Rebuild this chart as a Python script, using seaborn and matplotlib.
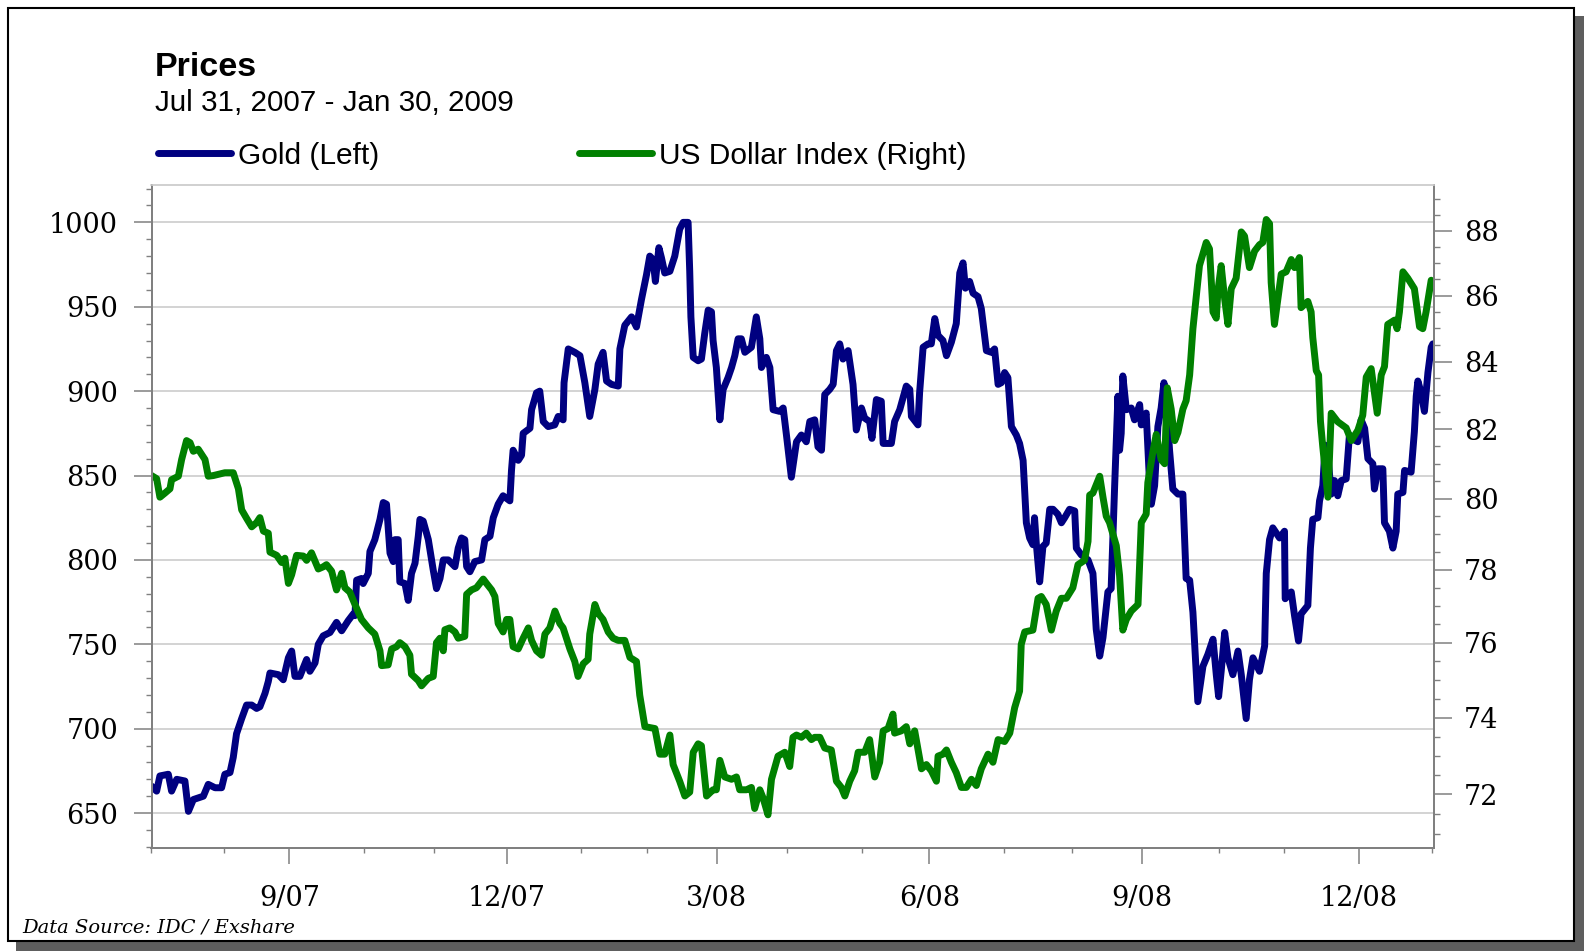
import numpy as np
import pandas as pd
import matplotlib.pyplot as plt
import seaborn as sns
from matplotlib.patches import Rectangle
from matplotlib.ticker import FixedLocator, MultipleLocator, NullFormatter, FixedFormatter

# days after Jul 31, 2007 and the values
gold_day = [
    0, 2.2, 3.6, 7.2, 8.6, 10.8, 14.3, 15.8, 17.9, 22.2, 24.3, 27.2, 30.0, 31.4, 33.6, 35.0, 36.4, 38.6, 40.7, 42.9,
    45.0, 46.4, 48.6, 50.0, 50.7, 54.3, 56.4, 58.6, 60.0, 61.4, 63.5, 66.4, 67.8, 70.0, 71.4, 73.5, 76.4, 79.2, 81.4, 84.2, 86.4,
    87.1, 87.8, 89.9, 90.6, 92.8, 93.5, 95.6, 97.8, 99.2, 100.6, 102.1, 103.5, 104.2, 105.6, 106.3, 108.5, 109.9, 111.3, 112.8, 114.2,
    114.9, 116.3, 118.5, 120.6, 122.0, 123.5, 124.9, 127.0, 129.9, 131.3, 132.7, 134.1, 134.9, 136.3, 138.4, 141.3, 142.7, 144.9, 146.3, 148.4,
    150.5, 153.4, 154.1, 154.8, 157.0, 158.4, 159.1, 162.0, 162.7, 164.8, 166.2, 167.7, 169.8, 172.6, 174.1, 176.2, 176.6,
    178.4, 181.2, 183.4, 185.5, 187.6, 189.8, 191.2, 193.3, 194.8, 196.9, 199.8, 200.5, 202.6, 205.5, 207.6, 209.7, 211.9, 213.3, 214.7, 215.7,
    217.2, 218.3, 219.7, 221.9, 224.0, 226.1, 227.6, 229.7, 230.4, 230.9, 231.9, 234.0, 235.4, 236.8, 238.3, 239.7, 240.4, 241.8, 243.3, 244.7,
    246.8, 248.3, 249.7, 251.1, 252.5, 254.0, 256.8, 258.9, 260.4, 261.1, 263.2, 264.7, 266.1, 268.9, 270.4,
    271.8, 273.9, 276.1, 278.2, 280.3, 281.8, 283.9, 285.3, 286.8, 288.2, 290.3, 291.8, 293.2, 294.6, 296.0, 298.2, 300.3, 301.7, 303.9, 305.3,
    307.4, 308.4, 310.3, 312.4, 313.2, 315.3, 316.7, 318.1, 320.3, 323.1, 324.6, 325.3, 328.1, 328.8, 330.3, 332.4, 333.8, 335.3, 336.7, 338.8,
    340.3, 342.4, 344.5, 346.0, 347.4, 348.4, 350.2, 351.7, 353.8, 355.2,
    357.4, 359.5, 360.9, 362.4, 363.8, 365.2, 366.6, 368.1, 370.2, 371.6, 373.1, 373.8, 374.5, 375.9, 377.3, 378.0, 378.8, 380.2, 381.6, 383.0,
    384.5, 385.9, 388.0, 389.5, 390.9, 393.0, 395.2, 395.9, 398.0, 400.9, 403.0, 404.4, 405.9, 407.3, 409.4, 410.8, 412.3, 413.0, 413.7, 414.4,
    415.1, 415.8, 417.3, 419.4, 420.8, 423.0, 423.7, 425.8, 427.3, 428.0, 429.4, 430.8, 432.2, 433.4, 434.4, 435.8, 437.2, 439.4, 441.5, 442.9,
    444.4, 445.8,
    447.9, 450.1, 452.2, 454.4, 455.8, 456.8, 457.9, 459.4, 460.8, 462.9, 465.1, 466.5, 468.6, 470.0, 471.5, 474.3, 476.5, 477.2, 478.6, 480.0,
    482.9, 485.0, 485.3, 487.9, 489.3, 491.0, 492.1, 495.0, 496.1, 497.1, 499.3, 500.0, 501.4, 502.4, 503.6, 505.0, 506.4, 507.8, 509.3, 511.4,
    512.8, 515.0, 516.4, 517.8, 519.3, 520.7, 522.8, 523.5, 525.0, 527.1, 527.8, 529.9, 531.4, 532.8, 533.5, 535.7, 536.4, 539.2, 540.6, 541.4,
    542.1, 543.5, 544.9, 546.4, 547.8, 548.5,
]
gold_price = [
    666, 663, 672, 673, 663, 670, 669, 651, 658, 660, 667, 665, 665, 673, 674, 683, 697, 706, 714, 714,
    712, 713, 721, 728, 733, 732, 729, 742, 746, 731, 731, 741, 734, 739, 750, 755, 757, 763, 758, 764, 768,
    767, 788, 789, 786, 792, 805, 812, 824, 834, 833, 804, 799, 812, 812, 787, 786, 776, 792, 798, 814,
    824, 823, 812, 794, 783, 789, 800, 800, 796, 807, 813, 812, 796, 793, 799, 800, 812, 814, 825, 833,
    838, 835, 853, 865, 859, 862, 875, 878, 889, 899, 900, 882, 879, 880, 885, 883, 905,
    925, 923, 921, 905, 885, 901, 916, 923, 906, 904, 903, 925, 939, 944, 938, 954, 969, 980, 978, 965,
    985, 979, 970, 971, 980, 996, 1000, 1000, 971, 944, 920, 918, 919, 934, 948, 947, 930, 914, 883, 901,
    908, 914, 921, 931, 931, 923, 926, 944, 931, 914, 920, 914, 889, 888, 890,
    874, 849, 870, 874, 870, 882, 883, 867, 865, 898, 901, 904, 924, 928, 919, 924, 904, 877, 890, 884,
    882, 872, 895, 894, 869, 869, 869, 882, 889, 903, 901, 885, 880, 899, 926, 928, 928, 943, 933, 930,
    921, 929, 940, 970, 976, 961, 965, 958, 956, 949,
    924, 923, 925, 904, 905, 911, 908, 879, 874, 869, 859, 840, 822, 813, 809, 825, 809, 787, 808, 810,
    830, 830, 827, 822, 825, 830, 829, 807, 803, 800, 792, 759, 743, 754, 781, 783, 844, 870, 897, 865,
    875, 909, 889, 890, 883, 892, 880, 887, 844, 833, 844, 879, 890, 905, 894, 865, 842, 839, 839, 789,
    788, 769,
    716, 737, 744, 753, 732, 719, 734, 757, 742, 732, 746, 732, 706, 729, 742, 734, 749, 792, 812, 819,
    813, 817, 777, 781, 767, 752, 768, 773, 807, 824, 825, 835, 844, 868, 862, 839, 847, 838, 847, 848,
    874, 871, 870, 883, 878, 860, 857, 842, 854, 854, 822, 817, 807, 817, 839, 840, 853, 852, 876, 897,
    906, 899, 888, 911, 926, 928,
]

usd_day = [
    0, 2.2, 3.6, 5.8, 7.9, 8.6, 11.5, 12.9, 15.0, 16.5, 17.9, 20.0, 22.9, 24.3, 26.5, 31.4, 35.0, 37.2, 38.6, 40.7,
    42.9, 45.0, 46.4, 47.9, 50.0, 50.7, 53.6, 55.7, 57.1, 58.6, 60.0, 62.1, 65.0, 66.4, 68.5, 71.4, 73.5, 74.9, 77.1, 79.2,
    81.4, 82.8, 84.9,
    87.1, 89.9, 92.8, 95.6, 97.8, 98.5, 101.3, 102.8, 104.9, 106.3, 108.5, 110.6, 111.3, 114.2, 115.6, 118.5, 120.6, 122.0, 123.5, 124.9,
    125.6, 127.7, 129.9, 131.3, 134.1, 134.9, 137.0, 139.1, 142.0, 143.4, 145.6, 147.0, 148.4, 150.5, 152.0, 153.4, 154.8, 157.0, 159.1, 161.3,
    162.7, 164.8, 167.0, 168.4, 170.5, 172.7, 174.8, 176.2,
    179.1, 181.2, 182.6, 184.8, 186.9, 187.6, 189.8, 191.2, 193.3, 195.5, 197.6, 199.8, 202.6, 204.8, 207.6, 209.0, 211.2, 215.5, 217.6, 219.7,
    221.9, 223.3, 226.1, 228.3, 230.4, 231.9, 234.0, 235.4, 237.6, 240.4, 241.8, 243.3, 245.4, 248.3, 250.4, 251.8, 254.7, 256.8, 258.2, 260.4,
    261.8, 263.9, 265.4,
    268.2, 271.1, 273.2, 274.6, 276.1, 278.2, 280.3, 282.5, 283.9, 286.1, 288.2, 291.0, 293.2, 295.3, 296.8, 298.9, 301.0, 302.5, 305.3, 307.4,
    309.6, 311.7, 313.2, 315.3, 317.4, 318.1, 321.0, 323.1, 324.6, 326.7, 329.6, 331.7, 333.8, 336.0, 336.7, 338.8, 340.3, 342.4, 344.5, 346.7,
    348.8, 351.0, 353.1, 355.2,
    358.1, 360.2, 362.4, 365.2, 367.4, 369.5, 371.6, 372.3, 373.8, 377.3, 379.5, 380.9, 383.0, 385.2, 387.3, 389.5, 391.6, 394.4, 396.6, 399.4,
    400.9, 401.6, 403.0, 405.9, 407.3, 408.7, 410.1, 413.0, 414.4, 415.8, 417.3, 419.4, 422.3, 423.7, 425.8, 426.5, 428.7, 430.1, 432.2, 433.7,
    434.8, 436.5, 438.0, 439.4, 441.5, 442.9, 444.4, 445.8,
    448.6, 451.5, 452.9, 454.4, 455.8, 456.5, 457.9, 459.4, 460.8, 462.2, 464.3, 466.5, 467.9, 470.0, 472.2, 474.3, 475.7, 477.2, 478.6, 479.3,
    480.7, 483.6, 485.7, 487.9, 489.3, 491.4, 492.1, 495.0, 496.4, 497.1, 498.6, 499.6, 500.4, 501.4, 503.6, 505.0, 507.8, 511.4, 513.6, 516.4,
    518.5, 520.0, 522.1, 524.7, 526.4, 527.8, 529.2, 532.1, 533.2, 534.2, 535.7, 537.8, 540.6, 542.8, 544.2, 545.6, 547.8,
]
usd_index = [
    80.66, 80.57, 80.04, 80.16, 80.28, 80.54, 80.64, 81.12, 81.67, 81.61, 81.36, 81.42, 81.12, 80.64, 80.66, 80.74, 80.74, 80.28, 79.68, 79.44,
    79.20, 79.32, 79.46, 79.08, 79.02, 78.49, 78.40, 78.20, 78.32, 77.62, 77.86, 78.40, 78.38, 78.26, 78.47, 78.02, 78.08, 78.14, 77.96, 77.44,
    77.90, 77.50, 77.38,
    77.04, 76.63, 76.40, 76.23, 75.78, 75.38, 75.40, 75.83, 75.89, 76.00, 75.89, 75.66, 75.15, 74.98, 74.84, 75.04, 75.09, 76.00, 76.12, 75.78,
    76.35, 76.40, 76.29, 76.12, 76.17, 77.32, 77.44, 77.50, 77.74, 77.62, 77.44, 77.26, 76.52, 76.29, 76.63, 76.63, 75.89, 75.83, 76.12, 76.40,
    76.06, 75.78, 75.66, 76.23, 76.40, 76.86, 76.52, 76.40,
    75.83, 75.49, 75.09, 75.43, 75.55, 76.23, 77.04, 76.80, 76.63, 76.29, 76.12, 76.06, 76.06, 75.60, 75.49, 74.59, 73.76, 73.71, 73.04, 73.04,
    73.54, 72.77, 72.34, 71.96, 72.06, 73.09, 73.31, 73.26, 71.96, 72.12, 72.12, 72.88, 72.45, 72.39, 72.45, 72.12, 72.12, 72.18, 71.64, 72.12,
    71.91, 71.48, 72.39,
    72.99, 73.09, 72.72, 73.48, 73.54, 73.48, 73.59, 73.42, 73.48, 73.48, 73.20, 73.15, 72.34, 72.18, 71.96, 72.34, 72.61, 73.09, 73.09, 73.42,
    72.45, 72.83, 73.65, 73.71, 74.09, 73.59, 73.65, 73.76, 73.31, 73.65, 72.66, 72.77, 72.61, 72.34, 72.99, 73.04, 73.15, 72.83, 72.56, 72.18,
    72.18, 72.39, 72.23, 72.66,
    73.04, 72.83, 73.42, 73.37, 73.59, 74.26, 74.70, 75.95, 76.29, 76.34, 77.21, 77.26, 77.04, 76.34, 76.86, 77.21, 77.21, 77.50, 78.14, 78.26,
    78.79, 80.10, 80.16, 80.64, 80.04, 79.50, 79.32, 78.67, 77.84, 76.34, 76.63, 76.86, 77.04, 79.32, 79.56, 80.46, 81.36, 81.85, 81.12, 81.00,
    83.22, 82.59, 81.67, 81.91, 82.59, 82.84, 83.60, 84.99,
    86.92, 87.64, 87.44, 85.50, 85.31, 86.14, 86.92, 85.89, 85.12, 86.21, 86.53, 87.97, 87.84, 86.86, 87.37, 87.57, 87.64, 88.36, 88.23, 86.40,
    85.12, 86.66, 86.73, 87.11, 86.86, 87.17, 85.63, 85.82, 85.50, 84.73, 83.73, 83.60, 82.23, 81.48, 80.04, 82.47, 82.22, 82.04, 81.67, 81.97,
    82.41, 83.54, 83.79, 82.47, 83.60, 83.85, 85.12, 85.25, 84.99, 85.50, 86.73, 86.53, 86.21, 85.05, 84.99, 85.50, 86.47,
]

gold_ticks = [650, 700, 750, 800, 850, 900, 950, 1000]
usd_ticks = [72, 74, 76, 78, 80, 82, 84, 86, 88]
month_ticks = ['2007-09-28', '2007-12-30', '2008-03-29', '2008-06-28', '2008-09-27', '2008-12-29']
month_labels = ['9/07', '12/07', '3/08', '6/08', '9/08', '12/08']
minor_month_ticks = ['2007-07-31', '2007-08-31', '2007-10-30', '2007-11-29', '2008-01-31', '2008-02-28',
                     '2008-04-28', '2008-05-30', '2008-07-30', '2008-08-28', '2008-10-30', '2008-11-27', '2009-01-29']

start = pd.Timestamp('2007-07-31')
gold = pd.DataFrame({'date': start + pd.to_timedelta(gold_day, unit='D'), 'price': gold_price})
usd = pd.DataFrame({'date': start + pd.to_timedelta(usd_day, unit='D'), 'index': usd_index})

sns.set_theme(style='ticks')
plt.rcParams['font.family'] = ['DejaVu Serif']
plt.rcParams['text.color'] = 'black'

W, H = 1584, 951
fig = plt.figure(figsize=(W / 100, H / 100), dpi=100)
fig.patch.set_facecolor('white')

# framed panel with a drop shadow, kept behind the axes
fig.patches.append(Rectangle((16 / W, 0), 1 - 16 / W, 935 / H, transform=fig.transFigure,
                             facecolor='#5e5e5e', edgecolor='none', zorder=-2))
fig.patches.append(Rectangle((8 / W, 10 / H), 1566 / W, 933 / H, transform=fig.transFigure,
                             facecolor='white', edgecolor='black', lw=1.5, zorder=-1))

ax = fig.add_axes([151.5 / W, 1 - 848 / H, (1434 - 151.5) / W, (848 - 185.4) / H])
ax2 = ax.twinx()

line_kw = dict(lw=5.0, solid_capstyle='round', solid_joinstyle='round', estimator=None, errorbar=None)
sns.lineplot(data=gold, x='date', y='price', ax=ax, color='#000080', label='Gold (Left)', **line_kw)
sns.lineplot(data=usd, x='date', y='index', ax=ax2, color='#008000', label='US Dollar Index (Right)', **line_kw)

h1, l1 = ax.get_legend_handles_labels()
h2, l2 = ax2.get_legend_handles_labels()
for a in (ax, ax2):
    if a.get_legend() is not None:
        a.get_legend().remove()

# left axis: gold
ax.set_xlim(start, start + pd.Timedelta(days=549))
ax.set_ylim(629.3, 1021.9)
ax.yaxis.set_major_locator(FixedLocator(gold_ticks))
ax.yaxis.set_minor_locator(MultipleLocator(10))
ax.grid(axis='y', which='major', color='#cccccc', lw=1.2)
ax.grid(axis='x', visible=False)
ax.set_xlabel('')
ax.set_ylabel('')
ax.set_xticks(pd.to_datetime(month_ticks))
ax.set_xticklabels(month_labels)
ax.set_xticks(pd.to_datetime(minor_month_ticks), minor=True)

# right axis: dollar index (log scaled as in the source)
ax2.set_yscale('log')
ax2.set_ylim(70.64, 89.44)
ax2.yaxis.set_major_locator(FixedLocator(usd_ticks))
ax2.yaxis.set_major_formatter(FixedFormatter([str(t) for t in usd_ticks]))
ax2.yaxis.set_minor_locator(FixedLocator(np.arange(70.5, 89.5, 0.5)))
ax2.yaxis.set_minor_formatter(NullFormatter())
ax2.set_ylabel('')
ax2.grid(False)

tick_color = '#808080'
ax.tick_params(axis='y', which='major', direction='out', length=13, width=1.1, color=tick_color,
               labelsize=19.5, pad=11, labelcolor='black')
ax.tick_params(axis='y', which='minor', direction='out', length=4.5, width=1.0, color=tick_color)
ax.tick_params(axis='x', which='major', direction='out', length=11.5, width=1.1, color=tick_color,
               labelsize=19.5, pad=15, labelcolor='black')
ax.tick_params(axis='x', which='minor', direction='out', length=3.6, width=1.0, color=tick_color)
ax2.tick_params(axis='y', which='major', direction='out', length=13, width=1.1, color=tick_color,
                labelsize=19.5, pad=8.5, labelcolor='black')
ax2.tick_params(axis='y', which='minor', direction='out', length=4.5, width=1.0, color=tick_color)

for a in (ax, ax2):
    for side in ('left', 'right', 'bottom'):
        a.spines[side].set_color(tick_color)
        a.spines[side].set_linewidth(1.4)
    a.spines['top'].set_color('#d0d0d0')
    a.spines['top'].set_linewidth(1.2)

fig.text(155 / W, 1 - 67 / H, 'Prices', fontsize=24.5, fontweight='bold', family='Liberation Sans',
         va='center', color='black')
fig.text(155 / W, 1 - 103 / H, 'Jul 31, 2007 - Jan 30, 2009', fontsize=21.3, family='Liberation Sans',
         va='center', color='black')
fig.text(22 / W, 1 - 927 / H, 'Data Source: IDC / Exshare', fontsize=14, style='italic', family='DejaVu Serif',
         va='center', color='black')

leg = fig.legend(h1 + h2, l1 + l2, loc='center left', bbox_to_anchor=(158 / W, 1 - 155.5 / H), ncol=2,
                 frameon=False, prop={'family': 'Liberation Sans', 'size': 21.5}, handlelength=2.45,
                 handletextpad=0.22, columnspacing=6.7, borderpad=0, borderaxespad=0)
for t in leg.get_texts():
    t.set_color('black')

fig.savefig('out.png', dpi=100, facecolor='white')
